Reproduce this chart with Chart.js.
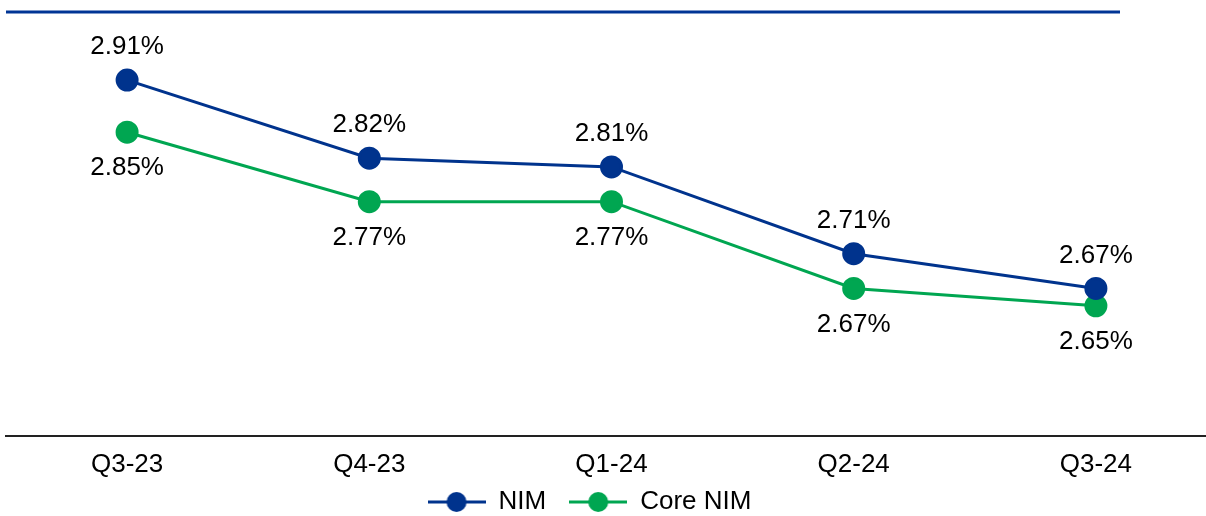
<!DOCTYPE html>
<html>
<head>
<meta charset="utf-8">
<script src="https://cdn.jsdelivr.net/npm/chart.js@4/dist/chart.umd.min.js"></script>
<style>
  html, body { margin: 0; padding: 0; background: #fff; overflow: hidden; }
  #wrap { width: 1220px; height: 525px; position: relative; }
</style>
</head>
<body>
<div id="wrap"><canvas id="c"></canvas></div>
<script>
const categories = ["Q3-23", "Q4-23", "Q1-24", "Q2-24", "Q3-24"];
const nimValues = [2.91, 2.82, 2.81, 2.71, 2.67];
const coreNimValues = [2.85, 2.77, 2.77, 2.67, 2.65];
const seriesNames = ["NIM", "Core NIM"];
const seriesColors = ["#00338D", "#00A651"];

const FONT = '"Liberation Sans", Arial, sans-serif';

function legendMarker(color) {
  const cv = document.createElement('canvas');
  cv.width = 58; cv.height = 22;
  const g = cv.getContext('2d');
  g.strokeStyle = color; g.lineWidth = 3;
  g.beginPath(); g.moveTo(0, 11); g.lineTo(58, 11); g.stroke();
  g.fillStyle = color;
  g.beginPath(); g.arc(29, 11, 10, 0, Math.PI * 2); g.fill();
  return cv;
}

const topRule = {
  id: 'topRule',
  afterDraw(chart) {
    const ctx = chart.ctx;
    ctx.save();
    ctx.strokeStyle = '#003595';
    ctx.lineWidth = 3;
    ctx.beginPath();
    ctx.moveTo(chart.chartArea.left, 12);
    ctx.lineTo(1120, 12);
    ctx.stroke();
    ctx.restore();
  }
};

const layoutTweak = {
  id: 'layoutTweak',
  afterLayout(chart) {
    if (chart.legend) {
      chart.legend.left -= 22;
      chart.legend.right -= 22;
    }
    const sx = chart.scales.x;
    sx.bottom += 30;
    sx.height += 30;
  }
};

const valueLabels = {
  id: 'valueLabels',
  afterDatasetsDraw(chart) {
    const ctx = chart.ctx;
    ctx.save();
    ctx.font = '26px ' + FONT;
    ctx.fillStyle = '#000';
    ctx.textAlign = 'center';
    ctx.textBaseline = 'middle';
    chart.data.datasets.forEach((ds, di) => {
      const meta = chart.getDatasetMeta(di);
      meta.data.forEach((pt, i) => {
        const off = di === 0 ? -33 : 36;
        ctx.fillText(ds.data[i].toFixed(2) + '%', pt.x, pt.y + off);
      });
    });
    ctx.restore();
  }
};

new Chart(document.getElementById('c'), {
  type: 'line',
  data: {
    labels: categories,
    datasets: [
      {
        label: seriesNames[0],
        data: nimValues,
        borderColor: seriesColors[0],
        backgroundColor: seriesColors[0],
        borderWidth: 3,
        pointRadius: 10,
        pointHoverRadius: 10,
        pointStyle: 'circle',
        tension: 0,
        clip: false
      },
      {
        label: seriesNames[1],
        data: coreNimValues,
        borderColor: seriesColors[1],
        backgroundColor: seriesColors[1],
        borderWidth: 3,
        pointRadius: 10,
        pointHoverRadius: 10,
        pointStyle: 'circle',
        tension: 0,
        clip: false
      }
    ]
  },
  options: {
    responsive: true,
    maintainAspectRatio: false,
    animation: false,
    layout: { autoPadding: false, padding: { left: 6, right: 3, top: 2, bottom: 0 } },
    scales: {
      x: {
        offset: true,
        grid: { display: true, drawOnChartArea: false, drawTicks: true, tickLength: 28, color: 'rgba(0,0,0,0)', tickColor: 'rgba(0,0,0,0)' },
        border: { display: true, color: '#222', width: 2 },
        ticks: { color: '#000', font: { family: FONT, size: 26, lineHeight: '2px' }, padding: 0, maxRotation: 0 }
      },
      y: {
        display: false,
        min: 2.5,
        max: 3.0
      }
    },
    plugins: {
      legend: {
        position: 'bottom',
        labels: {
          color: '#000',
          font: { family: FONT, size: 26 },
          usePointStyle: true,
          pointStyleWidth: 58,
          boxHeight: 22,
          padding: 23,
          generateLabels(chart) {
            return chart.data.datasets.map((ds, i) => ({
              text: ds.label,
              fontColor: '#000',
              fillStyle: ds.borderColor,
              strokeStyle: ds.borderColor,
              lineWidth: 0,
              pointStyle: legendMarker(ds.borderColor),
              hidden: false,
              datasetIndex: i
            }));
          }
        }
      },
      tooltip: { enabled: false }
    }
  },
  plugins: [topRule, valueLabels, layoutTweak]
});
</script>
</body>
</html>
